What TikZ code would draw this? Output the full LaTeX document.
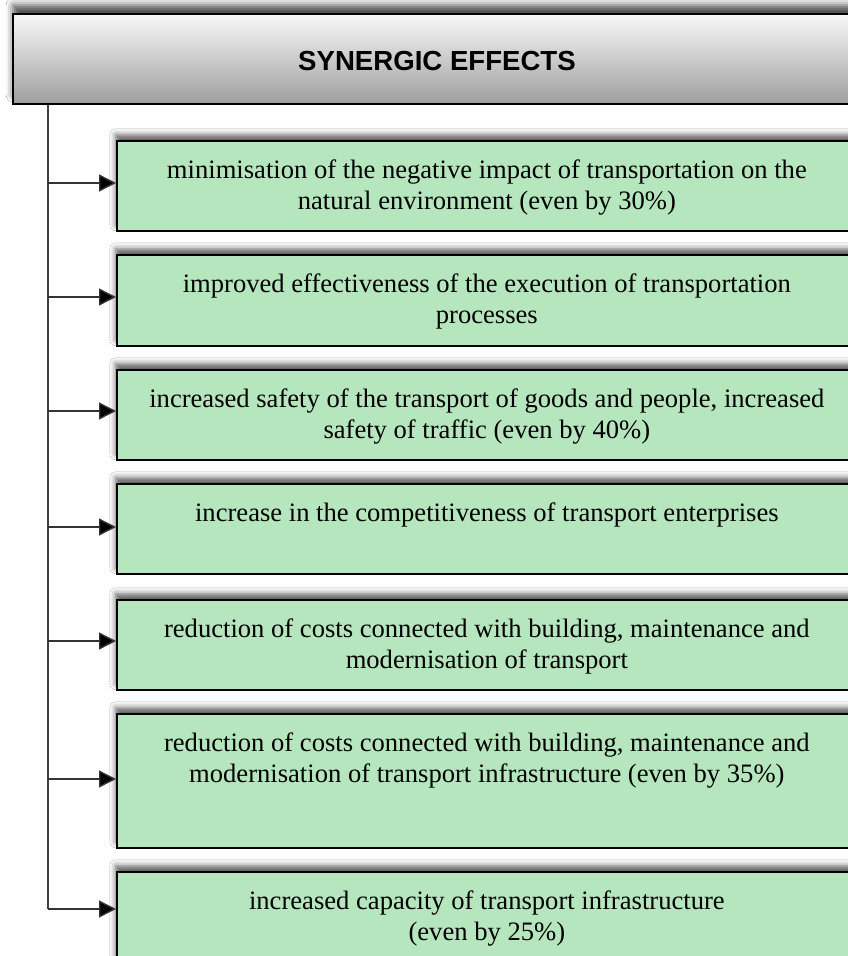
\documentclass[tikz,border=0pt]{standalone}
\usepackage{fontspec}
\setmainfont{Liberation Serif}
\newfontfamily\hdrfont{Liberation Sans}
\usetikzlibrary{arrows.meta,shadows.blur}
\definecolor{boxgreen}{RGB}{181,230,189}
\tikzset{
  greenbox/.style={draw=black, line width=1.7pt, fill=boxgreen, anchor=north west,
    minimum width=740pt, inner sep=0pt,
    blur shadow={shadow xshift=-1pt, shadow yshift=6pt, shadow blur radius=6pt, shadow opacity=65}},
  boxtext/.style={anchor=north, align=center, font=\fontsize{26.6}{31}\selectfont, text=black, inner sep=0pt},
  trunk/.style={draw=black!75, line width=1.5pt},
  arr/.style={draw=black!80, line width=1.4pt, -{Triangle[length=17pt,width=17pt,fill=black]}}
}
\begin{document}
\begin{tikzpicture}[x=1pt,y=-1pt]
\clip (0,0) rectangle (848,956);
\fill[white] (0,0) rectangle (848,956);
% header
\node[draw=black, line width=2.4pt, anchor=north west, minimum width=860pt, minimum height=90pt,
  top color=white!97!black, bottom color=black!38, inner sep=0pt,
  blur shadow={shadow xshift=0pt, shadow yshift=9pt, shadow blur radius=7pt, shadow opacity=70}]
  (h) at (12,13) {};
\node[font=\hdrfont\bfseries\fontsize{27.6}{32}\selectfont, anchor=center] (ht) at (437,61) {SYNERGIC EFFECTS};
% boxes
\node[greenbox, minimum height=90pt] (b1) at (116,140) {};
\node[greenbox, minimum height=91pt] (b2) at (116,254) {};
\node[greenbox, minimum height=90pt] (b3) at (116,369) {};
\node[greenbox, minimum height=90pt] (b4) at (116,483) {};
\node[greenbox, minimum height=90pt] (b5) at (116,599) {};
\node[greenbox, minimum height=134pt] (b6) at (116,713) {};
\node[greenbox, minimum height=110pt] (b7) at (116,871) {};
% texts
\node[boxtext] (t1) at ([yshift=-20pt]b1.north) {minimisation of the negative impact of transportation on the\\natural environment (even by 30\%)};
\node[boxtext] (t2) at ([yshift=-20pt]b2.north) {improved effectiveness of the execution of transportation\\processes};
\node[boxtext] (t3) at ([yshift=-20pt]b3.north) {increased safety of the transport of goods and people, increased\\safety of traffic (even by 40\%)};
\node[boxtext] (t4) at ([yshift=-20pt]b4.north) {increase in the competitiveness of transport enterprises};
\node[boxtext] (t5) at ([yshift=-20pt]b5.north) {reduction of costs connected with building, maintenance and\\modernisation of transport};
\node[boxtext] (t6) at ([yshift=-20pt]b6.north) {reduction of costs connected with building, maintenance and\\modernisation of transport infrastructure (even by 35\%)};
\node[boxtext] (t7) at ([yshift=-20pt]b7.north) {increased capacity of transport infrastructure\\(even by 25\%)};
% connectors
\coordinate (c1) at (48,183);
\coordinate (c2) at (48,297);
\coordinate (c3) at (48,411);
\coordinate (c4) at (48,527);
\coordinate (c5) at (48,641);
\coordinate (c6) at (48,779);
\coordinate (c7) at (48,909);
\draw[trunk] (h.south -| c1) -- (c7);
\foreach \i in {1,...,7} {
  \draw[arr] (c\i) -- (c\i -| b\i.west);
}
\end{tikzpicture}
\end{document}
